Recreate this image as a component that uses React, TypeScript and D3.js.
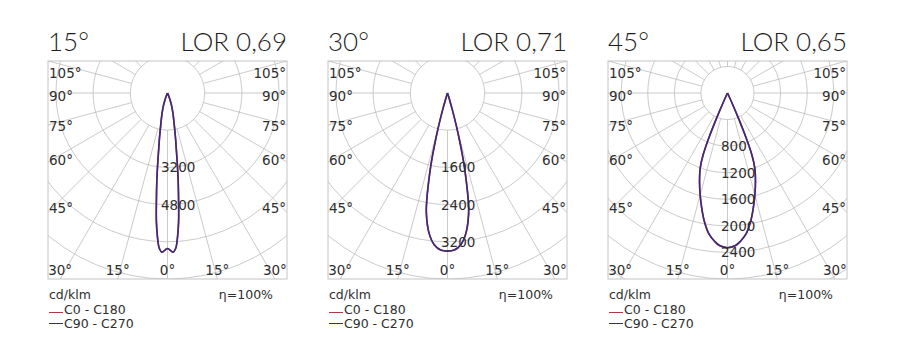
import React from 'react'
import * as d3 from 'd3'

// beam titles and light output ratios
const beamTitles = ['15°', '30°', '45°']
const lorLabels = ['LOR 0,69', 'LOR 0,71', 'LOR 0,65']

// polar grid: ring step and outer ring (touches box bottom) per panel, cd/klm
const ringSteps = [1600, 800, 400]
const ringOuter = [8000, 4000, 2800]
const ringLabels = [
    [3200, 4800],
    [1600, 2400, 3200],
    [800, 1200, 1600, 2000, 2400]
]

// angle labels on the box border
const sideAngleLabels = [105, 90, 75, 60, 45]
const bottomAngleLabels = [30, 15, 0]

// intensity curves (gamma from nadir, cd/klm), symmetric about 0
const angles15 = [0, 2, 3, 4, 5, 6, 7, 8, 9, 10, 12, 15, 18, 20, 22, 25, 30]
const cd15 = [6690, 6850, 6700, 6200, 5500, 4550, 3750, 3000, 2400, 2000, 1400, 900, 560, 350, 150, 30, 0]
const angles30 = [0, 2.5, 5, 7.5, 10, 11, 12, 13, 14, 15, 16, 17, 18, 20]
const cd30 = [3400, 3380, 3275, 3040, 2620, 2330, 1950, 1580, 1150, 750, 400, 150, 40, 0]
const angles45 = [0, 3, 5, 7.5, 10, 12.5, 15, 17.5, 20, 21.5, 22.5, 23.5, 24.5, 26]
const cd45 = [2330, 2300, 2240, 2140, 1980, 1785, 1590, 1400, 1200, 1000, 750, 400, 120, 0]

const curveAngles = [angles15, angles30, angles45]
const curveValues = [cd15, cd30, cd45]

const legendItems = ['C0 - C180', 'C90 - C270']
const legendColors = ['#b03844', '#3b2a7c']

const titleFont = 'Lato, "Open Sans", sans-serif'
const labelFont = '"DejaVu Sans", "Liberation Sans", sans-serif'
const textColor = '#2e2e2e'
const gridColor = '#bdbdbd'

const panelLeft0 = 48
const panelGap = 280
const boxW = 239
const boxTop = 61
const boxH = 218
const centerDrop = 32

function Panel({ i }: { i: number }) {
    const left = panelLeft0 + i * panelGap
    const right = left + boxW
    const bottom = boxTop + boxH
    const cx = left + boxW / 2
    const cy = boxTop + centerDrop

    const r = d3.scaleLinear().domain([0, ringOuter[i]]).range([0, bottom - cy])
    const maxR = Math.hypot(boxW / 2, bottom - cy) + 2
    const rings = d3.range(ringSteps[i], r.invert(maxR), ringSteps[i])
    const inner = r(ringSteps[i])
    const spokes = d3.range(0, 360, 15)
    const rad = (a: number) => (a * Math.PI) / 180

    // curve, gamma measured from downward vertical
    const ang = curveAngles[i]
    const val = curveValues[i]
    const pts: [number, number][] = []
    for (let k = ang.length - 1; k > 0; k--) pts.push([-ang[k], val[k]])
    for (let k = 0; k < ang.length; k++) pts.push([ang[k], val[k]])
    const line = d3.lineRadial<[number, number]>()
        .angle(d => Math.PI - rad(d[0]))
        .radius(d => r(d[1]))
        .curve(d3.curveCatmullRom.alpha(0.5))
    const path = line(pts) || ''

    const clipId = `clip-${i}`
    const inset = 8
    const halfW = cx - (left + inset)

    return (
        <g>
            <defs>
                <clipPath id={clipId}>
                    <rect x={left} y={boxTop} width={boxW} height={boxH} />
                </clipPath>
            </defs>
            <g clipPath={`url(#${clipId})`} fill="none" stroke={gridColor} strokeWidth={0.8}>
                {rings.map(v => (
                    <circle key={v} cx={cx} cy={cy} r={r(v)} />
                ))}
                {spokes.map(a => (
                    <line key={a}
                        x1={cx + inner * Math.sin(rad(a))} y1={cy + inner * Math.cos(rad(a))}
                        x2={cx + maxR * Math.sin(rad(a))} y2={cy + maxR * Math.cos(rad(a))} />
                ))}
            </g>
            <rect x={left} y={boxTop} width={boxW} height={boxH} fill="none" stroke="#c4c4c4" strokeWidth={1} />

            <g transform={`translate(${cx},${cy})`} fill="none" strokeWidth={1.6}>
                <path d={path} stroke={legendColors[0]} />
                <path d={path} stroke={legendColors[1]} />
            </g>

            <g fontFamily={labelFont} fontSize={13.5} fill={textColor}>
                {ringLabels[i].map(v => (
                    <text key={v} x={cx - 6.5} y={cy + r(v)} dominantBaseline="central">{v}</text>
                ))}
                {sideAngleLabels.map(a => {
                    const dy = halfW * Math.cos(rad(a)) / Math.sin(rad(a))
                    const y = Math.max(boxTop + 12, cy + dy + 3)
                    return (
                        <g key={a}>
                            <text x={left + 1} y={y} dominantBaseline="central">{a}°</text>
                            <text x={right - 1} y={y} dominantBaseline="central" textAnchor="end">{a}°</text>
                        </g>
                    )
                })}
                {bottomAngleLabels.map(a => {
                    const dx = (bottom - cy) * Math.tan(rad(a))
                    const y = bottom - 9
                    return (
                        <g key={a}>
                            <text x={cx - dx} y={y} dominantBaseline="central" textAnchor="middle">{a}°</text>
                            {a > 0 && <text x={cx + dx} y={y} dominantBaseline="central" textAnchor="middle">{a}°</text>}
                        </g>
                    )
                })}
            </g>

            <g fontFamily={titleFont} fill="#1e1e1e" fontSize={26} fontWeight={300}>
                <text x={left} y={51}>{beamTitles[i]}</text>
                <text x={right} y={51} textAnchor="end">{lorLabels[i]}</text>
            </g>

            <g fontFamily={labelFont} fontSize={12.5} fill={textColor}>
                <text x={left + 1} y={299}>cd/klm</text>
                <text x={left + 225} y={299} textAnchor="end">η=100%</text>
                <line x1={left + 1} x2={left + 15} y1={312.5} y2={312.5} stroke={legendColors[0]} strokeWidth={1} />
                <text x={left + 16} y={313.5}>{legendItems[0]}</text>
                <line x1={left + 1} x2={left + 15} y1={323.5} y2={323.5} stroke={legendColors[1]} strokeWidth={1} />
                <text x={left + 16} y={328}>{legendItems[1]}</text>
            </g>
        </g>
    )
}

export default function App() {
    return (
        <svg width={902} height={355} viewBox="0 0 902 355"
            style={{ position: 'absolute', left: 0, top: 0, background: '#fff' }}>
            {beamTitles.map((t, i) => <Panel key={t} i={i} />)}
        </svg>
    )
}
